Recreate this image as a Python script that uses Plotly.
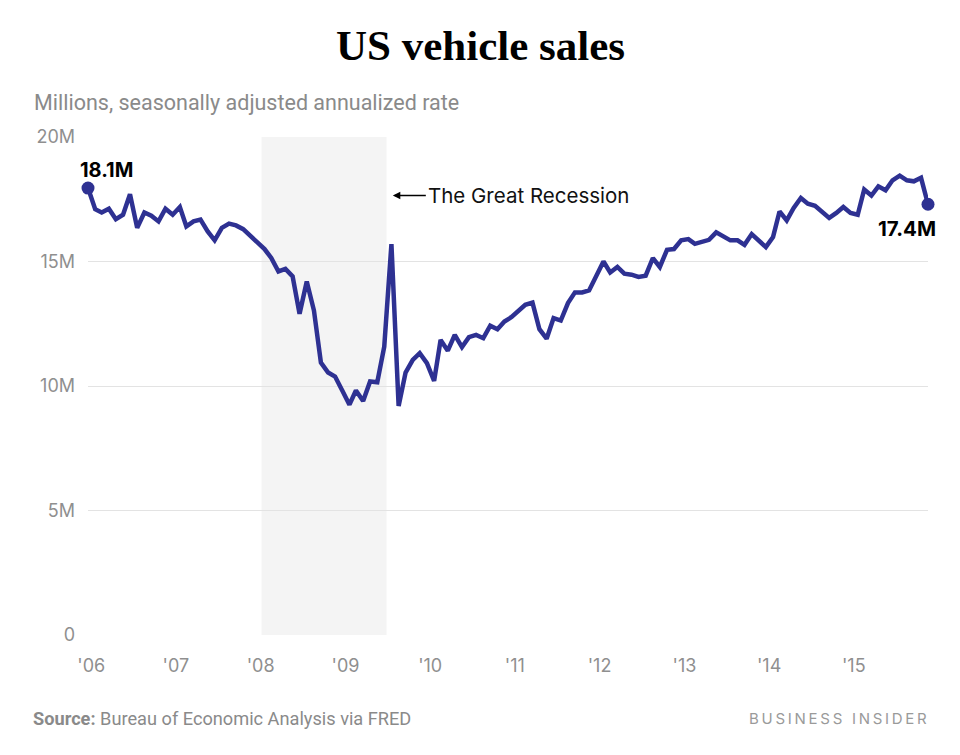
import pandas as pd
import plotly.graph_objects as go

# ---- data (millions, SAAR), monthly Jan 2006 - Dec 2015 ----
sales_2006 = [17.95, 17.10, 16.97, 17.12, 16.70, 16.88, 17.70, 16.35, 16.97, 16.84, 16.61, 17.12]
sales_2007 = [16.88, 17.19, 16.41, 16.61, 16.68, 16.21, 15.85, 16.35, 16.52, 16.45, 16.30, 16.05]
sales_2008 = [15.77, 15.50, 15.14, 14.60, 14.70, 14.40, 12.90, 14.20, 13.03, 10.94, 10.54, 10.38]
sales_2009 = [9.82, 9.25, 9.82, 9.40, 10.18, 10.15, 11.58, 15.70, 9.20, 10.54, 11.05, 11.32]
sales_2010 = [10.92, 10.20, 11.85, 11.42, 12.05, 11.56, 11.96, 12.05, 11.92, 12.42, 12.28, 12.59]
sales_2011 = [12.77, 13.03, 13.26, 13.35, 12.28, 11.90, 12.73, 12.63, 13.33, 13.76, 13.76, 13.84]
sales_2012 = [14.43, 15.00, 14.56, 14.78, 14.51, 14.47, 14.38, 14.43, 15.14, 14.78, 15.47, 15.50]
sales_2013 = [15.85, 15.90, 15.71, 15.80, 15.87, 16.17, 16.00, 15.85, 15.85, 15.67, 16.10, 15.85]
sales_2014 = [15.58, 15.98, 17.01, 16.65, 17.15, 17.55, 17.32, 17.24, 17.01, 16.75, 16.95, 17.19]
sales_2015 = [16.95, 16.88, 17.89, 17.65, 18.02, 17.86, 18.26, 18.45, 18.26, 18.22, 18.36, 17.30]

year_labels = ["'06", "'07", "'08", "'09", "'10", "'11", "'12", "'13", "'14", "'15"]
year_tick_dates = [f"{y}-01-15" for y in range(2006, 2016)]
y_tickvals = [0, 5, 10, 15, 20]
y_ticktext = ["0", "5M", "10M", "15M", "20M"]

start_label = "18.1M"
end_label = "17.4M"
recession_start = "2008-01-19"
recession_end = "2009-07-11"

values = (sales_2006 + sales_2007 + sales_2008 + sales_2009 + sales_2010 +
          sales_2011 + sales_2012 + sales_2013 + sales_2014 + sales_2015)
dates = pd.date_range("2006-01-01", periods=len(values), freq="MS")

LINE = "#2E3192"
GRAY = "#8f8f8f"

# page is rendered with an 8px body margin; compensate
OFF = 8
W, H = 960, 755
pl, pr, pt, pb = 88 - OFF, W - (928 - OFF), 137 - OFF, H - (635 - OFF)
pw, ph = W - pl - pr, H - pt - pb

def px_to_paper(xp, yp):
    """page pixel coords -> paper coords"""
    xf, yf = xp - OFF, yp - OFF
    return (xf - pl) / pw, (H - pb - yf) / ph

fig = go.Figure()

fig.add_vrect(x0=recession_start, x1=recession_end, fillcolor="#f4f4f4",
              line_width=0, layer="below")

fig.add_trace(go.Scatter(x=dates, y=values, mode="lines",
                         line=dict(color=LINE, width=4.5), cliponaxis=False,
                         hoverinfo="skip"))
fig.add_trace(go.Scatter(x=[dates[0], dates[-1]], y=[values[0], values[-1]],
                         mode="markers", marker=dict(color=LINE, size=13),
                         cliponaxis=False, hoverinfo="skip"))

fig.update_layout(
    width=W, height=H,
    margin=dict(l=pl, r=pr, t=pt, b=pb),
    paper_bgcolor="white", plot_bgcolor="white",
    showlegend=False,
    xaxis=dict(range=[dates[0], dates[-1]], tickvals=year_tick_dates, ticktext=year_labels,
               showgrid=False, zeroline=False, showline=False, ticks="",
               tickfont=dict(family="Inter", size=18, color=GRAY),
               ticklabelstandoff=18),
    yaxis=dict(range=[0, 20], tickvals=y_tickvals, ticktext=y_ticktext,
               showgrid=True, gridcolor="#e3e3e3", gridwidth=1,
               zeroline=False, showline=False, ticks="",
               tickfont=dict(family="Inter", size=18, color=GRAY),
               ticklabelstandoff=12),
)

tx, ty = px_to_paper(480, 46)
sx, sy = px_to_paper(32, 102)
fx, fy = px_to_paper(31, 719)
bx, by = px_to_paper(929, 719)

annotations = [
    dict(text="<b>US vehicle sales</b>", xref="paper", yref="paper",
         x=tx, y=ty, xanchor="center", yanchor="middle",
         font=dict(family="Liberation Serif", size=43, color="black"),
         showarrow=False),
    dict(text="Millions, seasonally adjusted annualized rate", xref="paper", yref="paper",
         x=sx, y=sy, xanchor="left", yanchor="middle", showarrow=False,
         font=dict(family="Roboto", size=21.5, color="#8a8a8a")),
    dict(text=f"<b>{start_label}</b>", x=dates[0], y=values[0], xref="x", yref="y",
         xanchor="left", yanchor="bottom", xshift=-10, yshift=4, showarrow=False,
         font=dict(family="Inter", size=20, color="black")),
    dict(text=f"<b>{end_label}</b>", x=dates[-1], y=values[-1], xref="x", yref="y",
         xanchor="right", yanchor="top", xshift=10, yshift=-10, showarrow=False,
         font=dict(family="Inter", size=20.5, color="black")),
    dict(text="The Great Recession", x="2009-08-07", y=17.65, xref="x", yref="y",
         showarrow=True, arrowhead=2, arrowsize=1, arrowwidth=1.5, arrowcolor="black",
         ax=33, ay=0, xanchor="left", yanchor="middle",
         font=dict(family="Inter", size=20.5, color="#111111")),
    dict(text="<b>Source:</b> Bureau of Economic Analysis via FRED", xref="paper", yref="paper",
         x=fx, y=fy, xanchor="left", yanchor="middle", showarrow=False,
         font=dict(family="Roboto", size=18.2, color="#8a8a8a")),
    dict(text="\u2009".join("BUSINESS INSIDER"), xref="paper", yref="paper",
         x=bx, y=by, xanchor="right", yanchor="middle", showarrow=False,
         font=dict(family="Inter", size=15, color="#9a9a9a")),
]
fig.update_layout(annotations=annotations)

fig.write_html("out.html")
